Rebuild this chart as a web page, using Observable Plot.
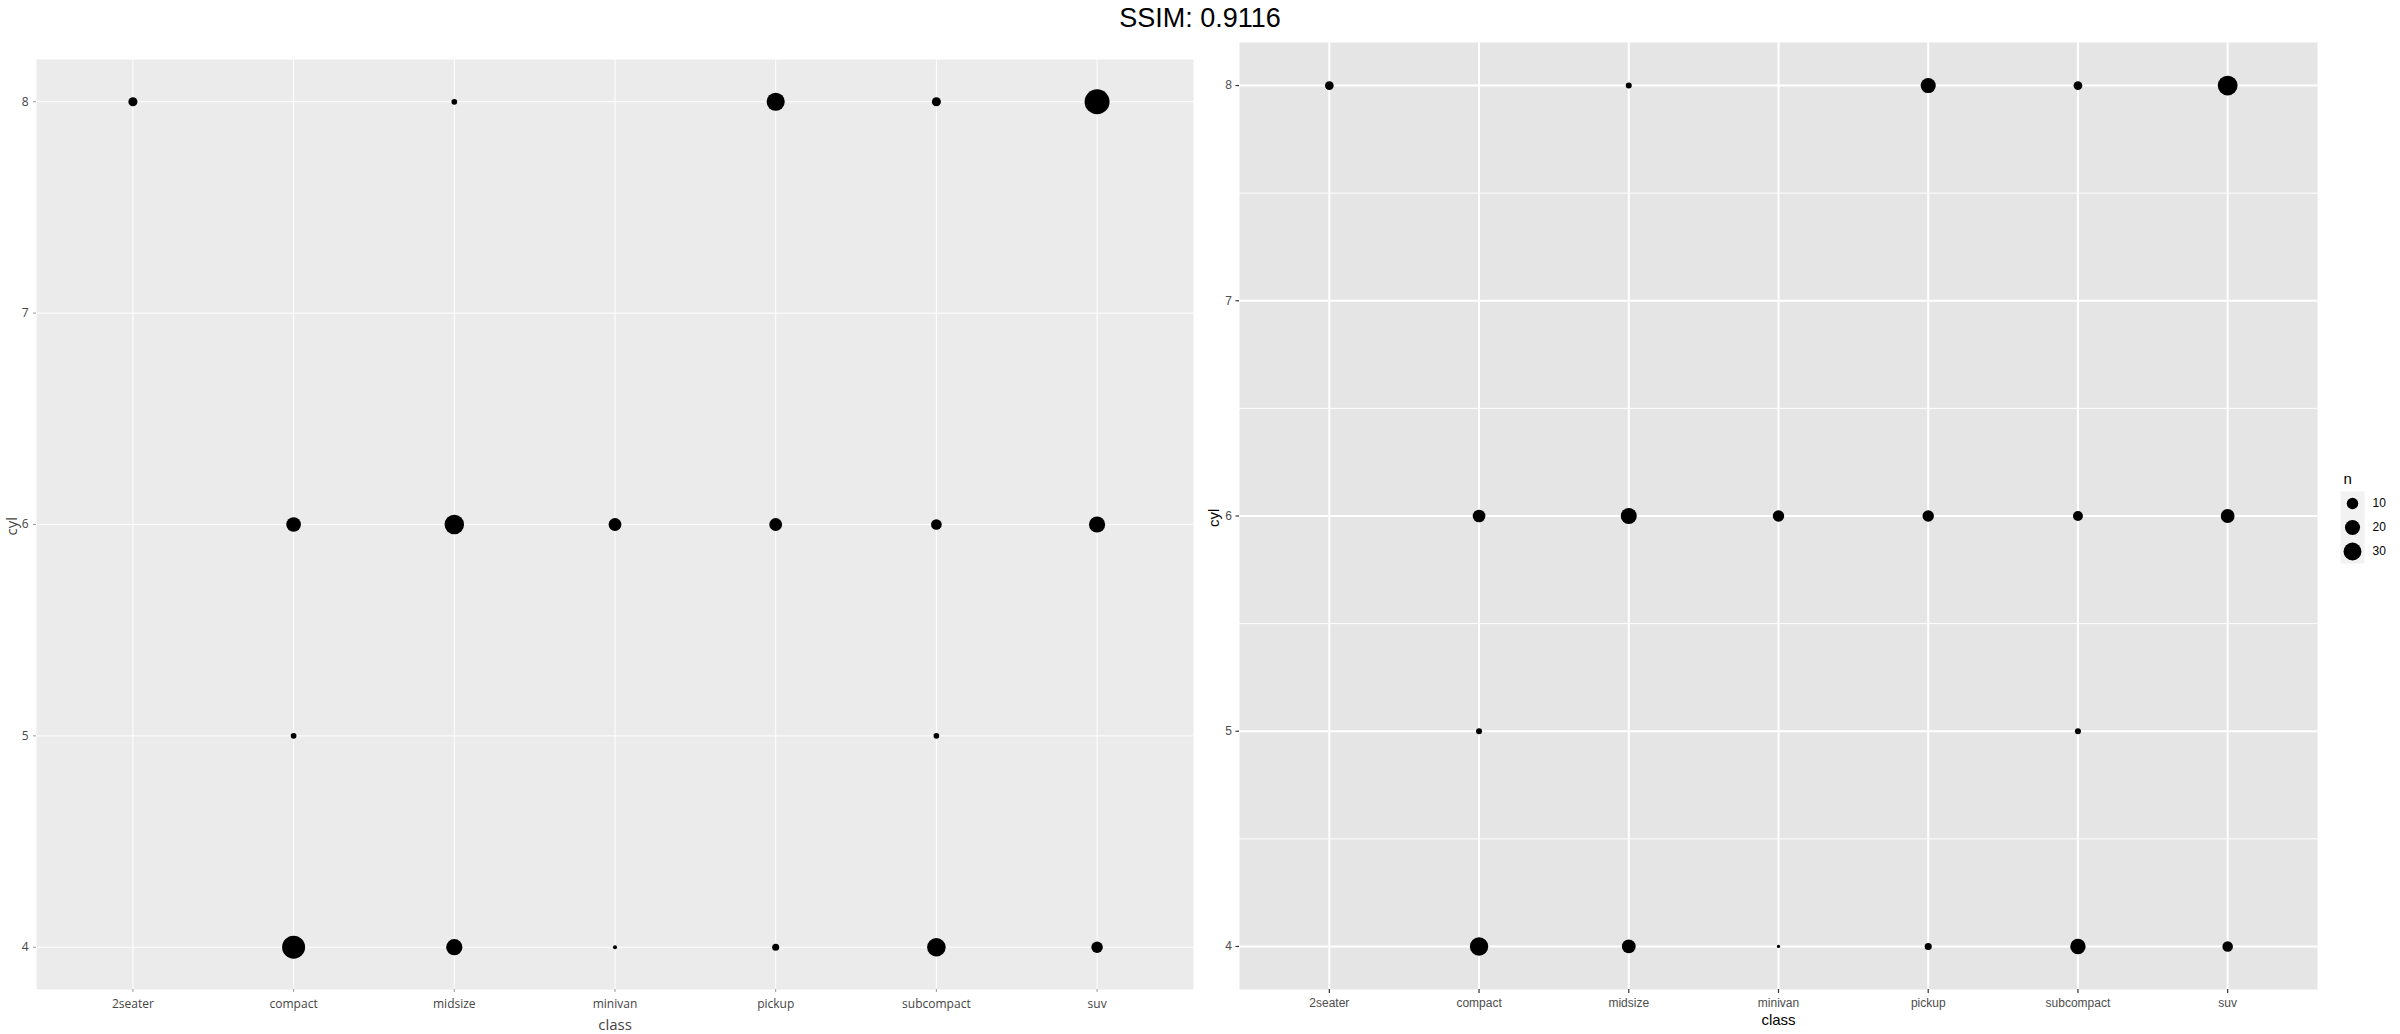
<!DOCTYPE html>
<html>
<head>
<meta charset="utf-8">
<script src="https://cdn.jsdelivr.net/npm/d3@7"></script>
<script src="https://cdn.jsdelivr.net/npm/@observablehq/plot@0.6"></script>
<style>
  body { margin: 0; background: #fff; }
  #root { position: relative; width: 2400px; height: 1034px; overflow: hidden; background: #fff; }
  #title { position: absolute; left: 0; top: 3px; width: 2400px; text-align: center;
           font-family: "Liberation Sans", Arial, sans-serif; font-size: 27px; color: #000; }
  .panel { position: absolute; top: 0; }
  .panel svg { max-width: none !important; }
</style>
</head>
<body>
<div id="root">
  <div id="title"></div>
  <div class="panel" id="left" style="left:0px;width:1200px;"></div>
  <div class="panel" id="right" style="left:1200px;width:1130px;"></div>
  <div class="panel" id="legend" style="left:2335px;top:465px;width:60px;"></div>
</div>
<script>
// ---- data ----
const titleText = "SSIM: 0.9116";
const classes = ["2seater", "compact", "midsize", "minivan", "pickup", "subcompact", "suv"];
const cylTicks = [4, 5, 6, 7, 8];
const cylMinor = [4.5, 5.5, 6.5, 7.5];
const countClass = ["2seater", "compact", "compact", "compact", "midsize", "midsize", "midsize",
                    "minivan", "minivan", "pickup", "pickup", "pickup",
                    "subcompact", "subcompact", "subcompact", "subcompact", "suv", "suv", "suv"];
const countCyl   = [8, 4, 5, 6, 4, 6, 8, 4, 6, 4, 6, 8, 4, 5, 6, 8, 4, 6, 8];
const countN     = [5, 32, 2, 13, 16, 23, 2, 1, 10, 3, 10, 20, 21, 2, 7, 5, 8, 16, 38];
const legendN = [10, 20, 30];
const xLabel = "class";
const yLabel = "cyl";
const legendTitle = "n";

const rows = countClass.map((c, i) => ({cls: c, cyl: countCyl[i], n: countN[i]}));
document.getElementById("title").textContent = titleText;
const fmtInt = d => String(d);

// ---- left panel (plotly-like) ----
const left = Plot.plot({
  width: 1200, height: 1034,
  marginLeft: 36, marginRight: 7, marginTop: 59, marginBottom: 45,
  style: {fontFamily: "'Open Sans', sans-serif", fontSize: "12px", color: "#444", background: "transparent", overflow: "visible"},
  x: {type: "point", domain: classes, padding: 0.6, round: false},
  y: {domain: [3.8, 8.2]},
  r: {type: "sqrt", domain: [0, d3.max(countN)], range: [0, 12.5]},
  marks: [
    Plot.frame({fill: "#ebebeb", stroke: "none"}),
    Plot.gridY(cylTicks, {stroke: "#fff", strokeOpacity: 1, strokeWidth: 1}),
    Plot.gridX(classes, {stroke: "#fff", strokeOpacity: 1, strokeWidth: 1}),
    Plot.axisY(cylTicks, {tickSize: 3, tickPadding: 5, tickFormat: fmtInt, stroke: "#999", fill: "#444", label: null}),
    Plot.axisX(classes, {tickSize: 3, tickPadding: 7, stroke: "#999", fill: "#444", label: null}),
    Plot.text([yLabel], {frameAnchor: "left", rotate: -90, dx: -24, dy: 11, fontSize: 15, fill: "#444"}),
    Plot.text([xLabel], {frameAnchor: "bottom", dy: 40, fontSize: 15, fill: "#444"}),
    Plot.dot(rows, {x: "cls", y: "cyl", r: "n", fill: "#000", stroke: "none"})
  ]
});
document.getElementById("left").appendChild(left);

// ---- right panel (ggplot-like) ----
const nMin = d3.min(countN), nMax = d3.max(countN);
const rScaleRight = {type: "linear", transform: v => Math.sqrt(v - nMin), domain: [0, Math.sqrt(nMax - nMin)], range: [1.65, 9.9]};
const right = Plot.plot({
  width: 1130, height: 1034,
  marginLeft: 39, marginRight: 13, marginTop: 42, marginBottom: 45,
  style: {fontFamily: "'Liberation Sans', Arial, sans-serif", fontSize: "12px", color: "#4d4d4d", background: "transparent", overflow: "visible"},
  x: {type: "point", domain: classes, padding: 0.6, round: false},
  y: {domain: [3.8, 8.2]},
  r: rScaleRight,
  marks: [
    Plot.frame({fill: "#e5e5e5", stroke: "none"}),
    Plot.ruleY(cylMinor, {stroke: "#fff", strokeWidth: 1}),
    Plot.gridY(cylTicks, {stroke: "#fff", strokeOpacity: 1, strokeWidth: 2}),
    Plot.gridX(classes, {stroke: "#fff", strokeOpacity: 1, strokeWidth: 2}),
    Plot.axisY(cylTicks, {tickSize: 3.5, tickPadding: 4, tickFormat: fmtInt, stroke: "#333", strokeWidth: 1.2, fill: "#4d4d4d", label: null}),
    Plot.axisX(classes, {tickSize: 4, tickPadding: 5, stroke: "#333", strokeWidth: 1.2, fill: "#4d4d4d", label: null}),
    Plot.text([yLabel], {frameAnchor: "left", rotate: -90, dx: -25, dy: 11, fontSize: 15, fill: "#000"}),
    Plot.text([xLabel], {frameAnchor: "bottom", dy: 35, fontSize: 15, fill: "#000"}),
    Plot.dot(rows, {x: "cls", y: "cyl", r: "n", fill: "#000", stroke: "none"})
  ]
});
document.getElementById("right").appendChild(right);

// ---- size legend ----
const legend = Plot.plot({
  width: 60, height: 110,
  marginLeft: 5, marginRight: 31, marginTop: 26, marginBottom: 12,
  style: {fontFamily: "'Liberation Sans', Arial, sans-serif", fontSize: "12px", color: "#000", background: "transparent", overflow: "visible"},
  x: {axis: null},
  y: {type: "point", domain: legendN, padding: 0.5, round: false, axis: null},
  r: rScaleRight,
  marks: [
    Plot.frame({fill: "#f2f2f2", stroke: "none"}),
    Plot.dot(legendN, {y: d => d, r: d => d, fill: "#000", stroke: "none"}),
    Plot.text(legendN, {y: d => d, text: d => String(d), frameAnchor: "right", dx: 8, textAnchor: "start", fill: "#000"}),
    Plot.text([legendTitle], {frameAnchor: "top-left", dx: 3, dy: -18, textAnchor: "start", fontSize: 15, fill: "#000"})
  ]
});
document.getElementById("legend").appendChild(legend);
</script>
</body>
</html>
